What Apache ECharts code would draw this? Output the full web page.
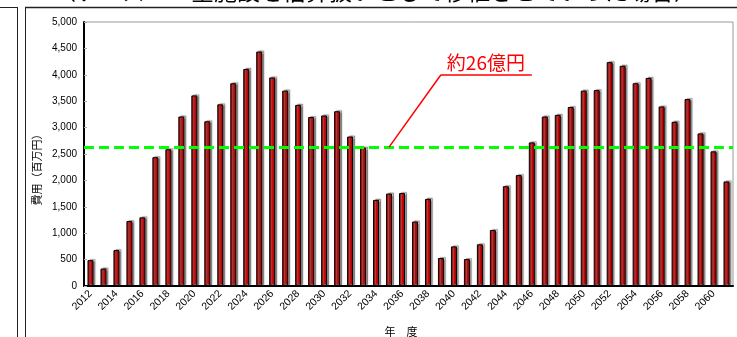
<!DOCTYPE html>
<html>
<head>
<meta charset="utf-8">
<script src="https://cdn.jsdelivr.net/npm/echarts@6/dist/echarts.min.js"></script>
<style>
  html, body { margin: 0; padding: 0; background: #fff; }
  #chart { width: 737px; height: 337px; }
</style>
</head>
<body>
<div id="chart"></div>
<script>
// 年度
const years = [
  '2012', '2013', '2014', '2015', '2016', '2017', '2018', '2019', '2020', '2021',
  '2022', '2023', '2024', '2025', '2026', '2027', '2028', '2029', '2030', '2031',
  '2032', '2033', '2034', '2035', '2036', '2037', '2038', '2039', '2040', '2041',
  '2042', '2043', '2044', '2045', '2046', '2047', '2048', '2049', '2050', '2051',
  '2052', '2053', '2054', '2055', '2056', '2057', '2058', '2059', '2060', '2061'
]
// 費用（百万円）
const cost = [
  490, 330, 680, 1230, 1300, 2440, 2590, 3210, 3610, 3120,
  3440, 3840, 4110, 4440, 3950, 3700, 3430, 3200, 3230, 3310,
  2830, 2620, 1630, 1750, 1760, 1220, 1650, 530, 750, 510,
  790, 1060, 1890, 2100, 2720, 3210, 3240, 3390, 3700, 3710,
  4240, 4170, 3840, 3940, 3400, 3110, 3540, 2890, 2550, 1980
]
const average = 2630 // 約26億円
const calloutY = 4000
const calloutFrom = '2035'
const calloutBend = '2039'
const calloutTo = '2046'
const yMax = 5000
const yStep = 500

const jp = '"Noto Sans CJK JP", "Noto Sans", sans-serif'
const num = '"Liberation Sans", Arial, sans-serif'

const chart = echarts.init(document.getElementById('chart'))
chart.setOption({
  animation: false,
  backgroundColor: '#fff',
  grid: {
    left: 84, right: 4, top: 22, bottom: 51,
    show: true, borderColor: '#999', borderWidth: 1
  },
  xAxis: {
    type: 'category',
    data: years,
    axisLine: { lineStyle: { color: '#000', width: 2 } },
    axisTick: { inside: true, length: 3, lineStyle: { color: '#aaa' } },
    axisLabel: {
      interval: 1, rotate: 45, color: '#000', fontSize: 10.5,
      fontFamily: num, margin: 6
    }
  },
  yAxis: {
    type: 'value',
    min: 0, max: yMax, interval: yStep,
    splitLine: { show: false },
    axisLine: { show: true, lineStyle: { color: '#000', width: 2 } },
    axisTick: { show: true, inside: true, length: 3, lineStyle: { color: '#aaa' } },
    axisLabel: {
      color: '#000', fontSize: 10, fontFamily: num, margin: 7,
      formatter: v => v.toLocaleString('en-US')
    }
  },
  series: [
    {
      type: 'bar',
      data: cost,
      barWidth: 6,
      itemStyle: {
        color: '#C00000', borderColor: '#000', borderWidth: 1,
        shadowColor: 'rgba(120,120,120,0.8)', shadowBlur: 1,
        shadowOffsetX: 2, shadowOffsetY: -1
      },
      markLine: {
        silent: true,
        symbol: 'none',
        label: { show: false },
        lineStyle: { color: '#00FF00', width: 3, type: [10, 5] },
        data: [{ yAxis: average }]
      }
    },
    {
      type: 'line',
      data: [],
      markLine: {
        silent: true,
        symbol: 'none',
        label: { show: false },
        lineStyle: { color: '#FF0000', width: 1.5, type: 'solid' },
        data: [
          [{ coord: [calloutFrom, average] }, { coord: [calloutBend, calloutY] }],
          [{ coord: [calloutBend, calloutY] }, { coord: [calloutTo, calloutY] }]
        ]
      },
      markPoint: {
        silent: true,
        symbol: 'circle', symbolSize: 0,
        label: {
          show: true, position: 'top', distance: 1, offset: [6, -2],
          formatter: '約26億円', color: '#FF0000', fontSize: 19,
          fontFamily: jp, textBorderColor: '#fff', textBorderWidth: 2
        },
        data: [{ coord: ['2042', calloutY] }]
      }
    }
  ],
  graphic: [
    { type: 'line', shape: { x1: 0, y1: 7.5, x2: 17, y2: 7.5 }, style: { stroke: '#222', lineWidth: 1 } },
    { type: 'line', shape: { x1: 17.5, y1: 7, x2: 17.5, y2: 337 }, style: { stroke: '#222', lineWidth: 1 } },
    { type: 'line', shape: { x1: 25, y1: 7.5, x2: 737, y2: 7.5 }, style: { stroke: '#222', lineWidth: 1.5 } },
    { type: 'line', shape: { x1: 25.5, y1: 7, x2: 25.5, y2: 337 }, style: { stroke: '#222', lineWidth: 1 } },
    {
      type: 'text', x: 375, y: 3,
      style: {
        text: '（ケース１：全施設を倍算扱いとして移植させていった場合）',
        fill: '#000', font: '23px ' + jp, textAlign: 'center', textVerticalAlign: 'bottom'
      }
    },
    {
      type: 'text', x: 37, y: 167, rotation: Math.PI / 2,
      style: {
        text: '費用（百万円）', fill: '#000', font: '11px ' + jp,
        textAlign: 'center', textVerticalAlign: 'middle'
      }
    },
    {
      type: 'text', x: 401, y: 332,
      style: {
        text: '年　度', fill: '#000', font: '11px ' + jp,
        textAlign: 'center', textVerticalAlign: 'middle'
      }
    }
  ]
})
</script>
</body>
</html>
